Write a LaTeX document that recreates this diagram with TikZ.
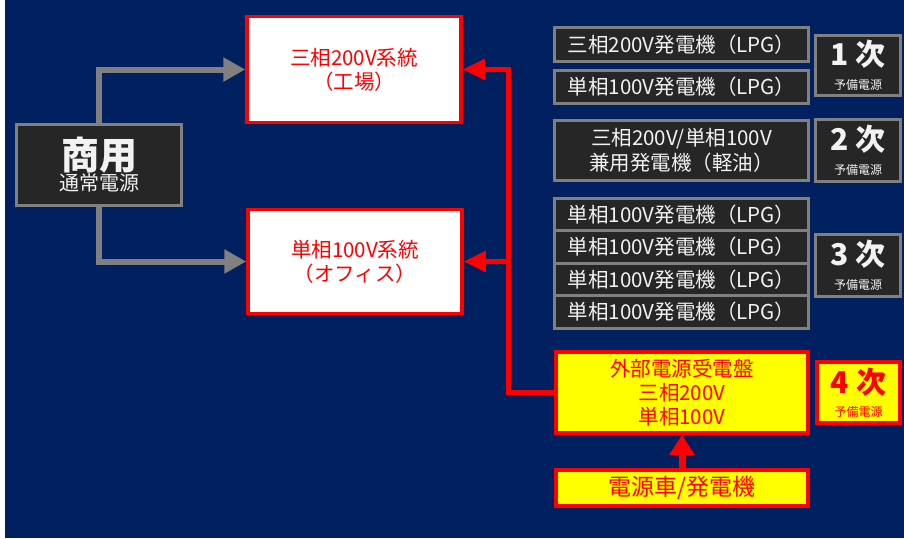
\documentclass[tikz,border=0pt]{standalone}
\usepackage{fontspec}
\setmainfont{Noto Sans CJK JP}
\usetikzlibrary{arrows.meta}
\definecolor{navy}{RGB}{0,32,96}
\definecolor{darkbox}{RGB}{38,38,38}
\definecolor{boxgray}{RGB}{128,128,128}
\definecolor{lighttext}{RGB}{242,242,242}
\definecolor{pred}{RGB}{255,0,0}
\definecolor{pyellow}{RGB}{255,255,0}
\tikzset{
  darkbox/.style={draw=boxgray, line width=3pt, fill=darkbox, text=lighttext, inner sep=0pt, align=center, font=\fontsize{20.5}{25}\selectfont},
  sysbox/.style={draw=pred, line width=3.5pt, fill=white, text=pred, inner sep=0pt, align=center, font=\fontsize{20.5}{24}\selectfont, minimum width=214pt},
  yelbox/.style={draw=pred, line width=3.5pt, fill=pyellow, text=pred, inner sep=0pt, align=center, font=\fontsize{20.5}{24}\selectfont},
  genbox/.style={darkbox, minimum width=254pt},
  rankbox/.style={darkbox, minimum width=85pt},
  grayarrow/.style={draw=boxgray, line width=6pt, -{Triangle[length=22pt,width=23pt]}},
  redarrow/.style={draw=pred, line width=5pt, -{Triangle[length=22pt,width=20pt]}},
  redline/.style={draw=pred, line width=5pt}
}
\newcommand{\rankline}[1]{{\fontsize{30}{30}\selectfont\bfseries #1}\\[-1pt]{\fontsize{12}{13}\selectfont 予備電源}}
\begin{document}
\begin{tikzpicture}[x=1pt,y=-1pt]
\useasboundingbox (0,0) rectangle (904,538);
\fill[white] (0,0) rectangle (904,538);
\fill[navy] (5,0) rectangle (904,538);

% left and middle
\node[darkbox, minimum width=165pt, minimum height=81pt] (com) at (99,165)
  {{\fontsize{38}{38}\selectfont\bfseries 商用}\\[-4pt]{\fontsize{20}{22}\selectfont 通常電源}};
\node[sysbox, minimum height=106pt] (sys3) at (354,69.5) {三相200V系統\\（工場）};
\node[sysbox, minimum height=104pt] (sys1) at (355,261.5) {単相100V系統\\（オフィス）};

% generators
\node[genbox, minimum height=34pt] (g1) at (681.5,44.5) {三相200V発電機（LPG）};
\node[genbox, minimum height=33pt] (g2) at (681.5,87) {単相100V発電機（LPG）};
\node[rankbox, minimum height=60pt] (k1) at (858,65.5) {\rankline{1 次}};

\node[genbox, minimum height=60pt] (g3) at (681.5,150.5) {三相200V/単相100V\\兼用発電機（軽油）};
\node[rankbox, minimum height=62pt] (k2) at (858,150.5) {\rankline{2 次}};

\node[genbox, minimum height=32.5pt] (g4) at (681.5,214.25) {単相100V発電機（LPG）};
\node[genbox, minimum height=32.5pt] (g5) at (681.5,246.75) {単相100V発電機（LPG）};
\node[genbox, minimum height=32.5pt] (g6) at (681.5,279.25) {単相100V発電機（LPG）};
\node[genbox, minimum height=32.5pt] (g7) at (681.5,311.75) {単相100V発電機（LPG）};
\node[rankbox, minimum height=62pt] (k3) at (858,265.5) {\rankline{3 次}};

\node[yelbox, minimum width=252pt, minimum height=81pt] (recv) at (682,392.5) {外部電源受電盤\\三相200V\\単相100V};
\node[yelbox, minimum width=83pt, minimum height=61pt] (k4) at (858.5,392.5) {\rankline{4 次}};
\node[yelbox, minimum width=252pt, minimum height=36pt, font=\fontsize{23}{24}\selectfont] (truck) at (682,488) {電源車/発電機};

% connectors
\coordinate (bus) at (508,0);
\draw[grayarrow] (com.north) |- (sys3.west);
\draw[grayarrow] (com.south) |- (sys1.west);
\draw[redarrow] (recv.west) -| (bus |- sys3.east) -- (sys3.east);
\draw[redarrow] (bus |- sys1.east) -- (sys1.east);
\draw[draw=pred, line width=7pt, -{Triangle[length=20pt,width=24pt]}] (truck.north) -- (recv.south);
\end{tikzpicture}
\end{document}
